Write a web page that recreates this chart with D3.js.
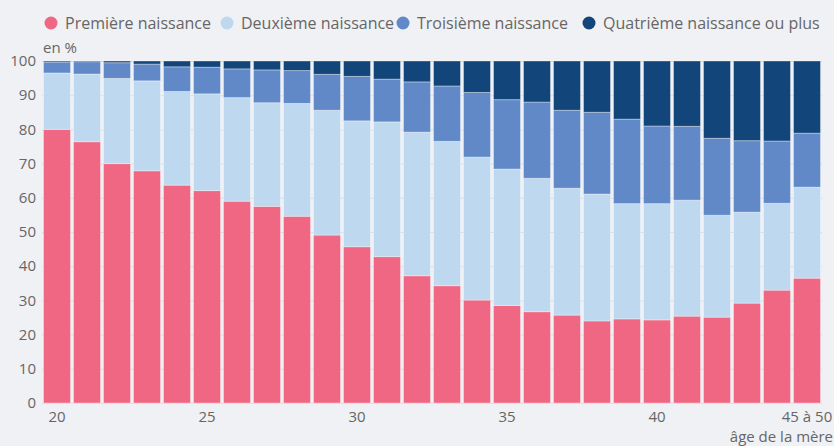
<!DOCTYPE html>
<html>
<head>
<meta charset="utf-8">
<script src="https://cdn.jsdelivr.net/npm/d3@7"></script>
<style>
  body { margin: 0; background: #f0f1f4; }
  svg { display: block; font-family: 'Open Sans', sans-serif; }
</style>
</head>
<body>
<div id="chart"></div>
<script>
const ages = ['20', '21', '22', '23', '24', '25', '26', '27', '28', '29', '30', '31', '32', '33', '34', '35', '36', '37', '38', '39', '40', '41', '42', '43', '44', '45 à 50']
const tickAges = ['20', '25', '30', '35', '40', '45 à 50']

const premiere = [80.0, 76.4, 70.0, 67.9, 63.7, 62.1, 59.0, 57.5, 54.6, 49.1, 45.7, 42.8, 37.2, 34.3, 30.1, 28.5, 26.7, 25.7, 24.0, 24.6, 24.3, 25.4, 25.1, 29.2, 33.0, 36.5]
const deuxieme = [16.5, 19.8, 24.9, 26.3, 27.4, 28.3, 30.3, 30.3, 33.0, 36.5, 36.8, 39.4, 42.0, 42.2, 41.8, 39.9, 39.0, 37.1, 37.1, 33.7, 34.0, 33.9, 29.8, 26.6, 25.4, 26.6]
const troisieme = [3.2, 3.6, 4.6, 4.9, 7.2, 7.8, 8.4, 9.6, 9.6, 10.5, 13.0, 12.5, 14.7, 16.2, 18.9, 20.3, 22.3, 22.8, 23.9, 24.7, 22.7, 21.6, 22.5, 20.9, 18.2, 15.8]
const quatrieme = [0.3, 0.2, 0.5, 0.9, 1.7, 1.8, 2.3, 2.6, 2.8, 3.9, 4.5, 5.3, 6.1, 7.3, 9.2, 11.3, 12.0, 14.4, 15.0, 17.0, 19.0, 19.1, 22.6, 23.3, 23.4, 21.1]

const seriesNames = ['Première naissance', 'Deuxième naissance', 'Troisième naissance', 'Quatrième naissance ou plus']
const colors = ['#ef6783', '#bed8ef', '#6189c7', '#12467a']

const width = 834
const height = 446
const margin = { top: 61, right: 12, bottom: 43, left: 42 }

const rows = ages.map((a, i) => ({
  age: a, s0: premiere[i], s1: deuxieme[i], s2: troisieme[i], s3: quatrieme[i]
}))
const stack = d3.stack().keys(['s0', 's1', 's2', 's3'])(rows)

const svg = d3.select('#chart')
  .append('svg')
  .attr('width', width)
  .attr('height', height)

const x = d3.scaleBand()
  .domain(ages)
  .range([margin.left, width - margin.right])
  .paddingInner(0.1)
  .paddingOuter(0.05)

const y = d3.scaleLinear()
  .domain([0, 100])
  .range([height - margin.bottom, margin.top])

// grid
svg.append('g')
  .selectAll('line')
  .data(d3.range(0, 101, 10))
  .join('line')
  .attr('x1', margin.left)
  .attr('x2', width - margin.right)
  .attr('y1', d => y(d) + 0.5)
  .attr('y2', d => y(d) + 0.5)
  .attr('stroke', '#dcdde0')
  .attr('stroke-width', 1)

// y labels
svg.append('g')
  .selectAll('text')
  .data(d3.range(0, 101, 10))
  .join('text')
  .attr('x', 36)
  .attr('y', d => y(d))
  .attr('dy', '0.35em')
  .attr('text-anchor', 'end')
  .attr('fill', '#666')
  .style('font-size', '15px')
  .text(d => d)

svg.append('text')
  .attr('x', 43)
  .attr('y', 53)
  .attr('fill', '#666')
  .style('font-size', '15px')
  .text('en %')

// bars
svg.append('g')
  .selectAll('g')
  .data(stack)
  .join('g')
  .attr('fill', (d, i) => colors[i])
  .selectAll('rect')
  .data(d => d)
  .join('rect')
  .attr('x', d => x(d.data.age))
  .attr('width', x.bandwidth())
  .attr('y', d => y(d[1]))
  .attr('height', d => y(d[0]) - y(d[1]))
  .attr('stroke', 'rgba(255,255,255,0.35)')
  .attr('stroke-width', 1)

// x labels
svg.append('g')
  .selectAll('text')
  .data(tickAges)
  .join('text')
  .attr('x', d => x(d) + x.bandwidth() / 2)
  .attr('y', 422)
  .attr('text-anchor', 'middle')
  .attr('fill', '#666')
  .style('font-size', '15px')
  .text(d => d)

svg.append('text')
  .attr('x', 833)
  .attr('y', 442)
  .attr('text-anchor', 'end')
  .attr('fill', '#666')
  .style('font-size', '15px')
  .text('âge de la mère')

// legend
const legendX = [51, 227, 403, 589]
const legend = svg.append('g')
  .selectAll('g')
  .data(seriesNames)
  .join('g')
  .attr('transform', (d, i) => `translate(${legendX[i]},23)`)

legend.append('circle')
  .attr('r', 6.5)
  .attr('fill', (d, i) => colors[i])

legend.append('text')
  .attr('x', 14)
  .attr('dy', '0.35em')
  .attr('fill', '#666')
  .style('font-size', '16px')
  .text(d => d)
</script>
</body>
</html>
